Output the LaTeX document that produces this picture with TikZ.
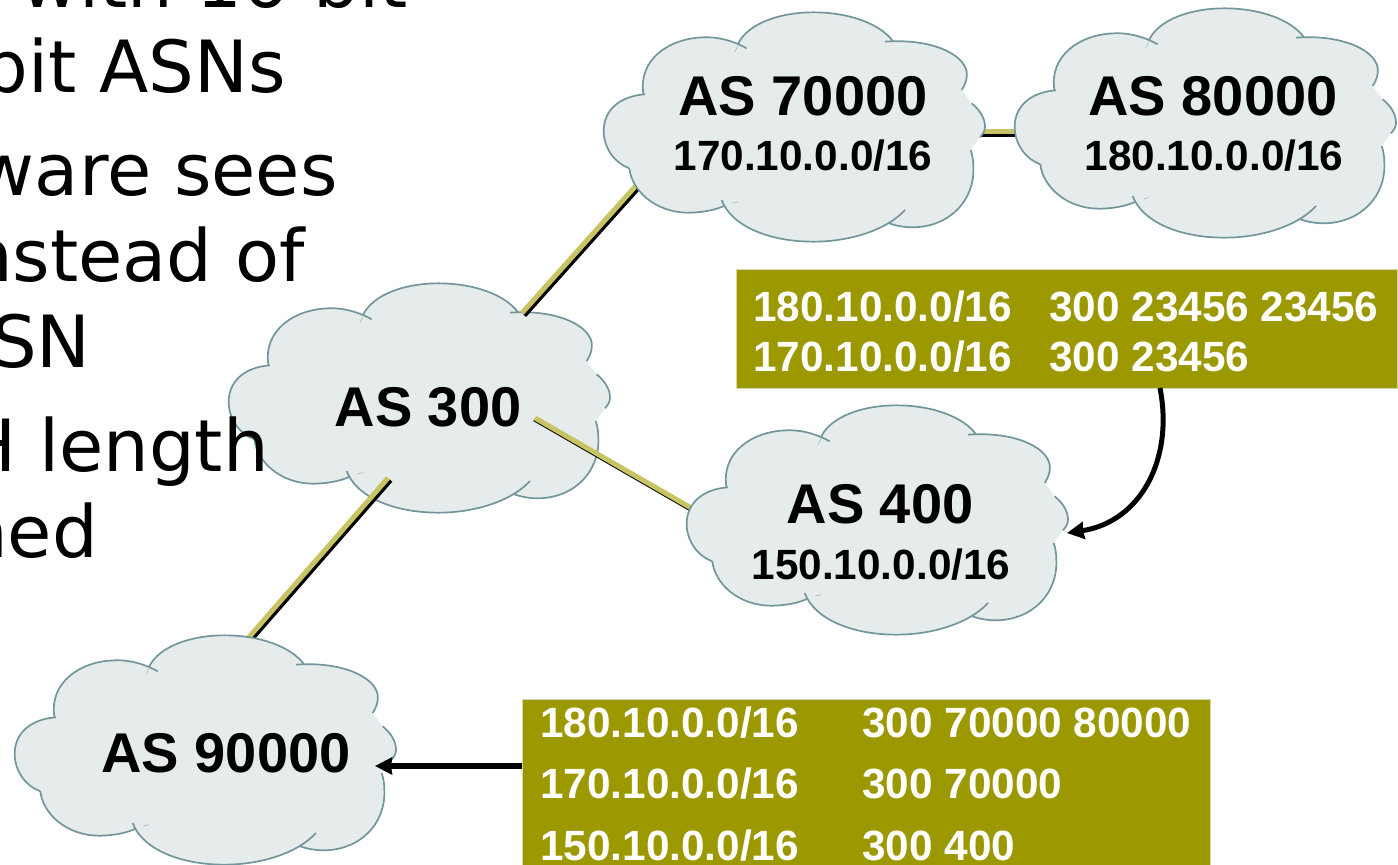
\documentclass[tikz,border=0pt]{standalone}
\usepackage{fontspec}
\setmainfont{Liberation Sans}
\newfontfamily\bodyfont{DejaVu Sans}
\usetikzlibrary{arrows.meta}
\definecolor{cloudfill}{HTML}{E6ECEC}
\definecolor{cloudline}{HTML}{72969C}
\definecolor{khaki}{HTML}{C8C464}
\definecolor{olivebox}{HTML}{9C9800}
\definecolor{boxedge}{HTML}{D8D8A8}
\tikzset{
  cloudtitle/.style={font=\fontsize{56}{60}\selectfont\bfseries,anchor=base,inner sep=0pt},
  cloudsub/.style={font=\fontsize{42.3}{46}\selectfont\bfseries,anchor=base,inner sep=0pt},
  boxtext/.style={font=\fontsize{42.3}{46}\selectfont\bfseries,text=white,anchor=base west,inner sep=0pt},
  bodytext/.style={font=\bodyfont\fontsize{72}{80}\selectfont,anchor=base east,inner sep=0pt},
  olive/.style={fill=olivebox,draw=boxedge,line width=.8pt,anchor=north west,inner sep=0pt},
  arrowline/.style={draw=black,-{Stealth[length=17pt,width=17pt,inset=1pt]}},
  linktop/.style={draw=khaki,line width=5pt},
}
% #1 is "--" for a closed filled outline, empty for separate strokes
\newcommand{\cloudoutline}[1]{
  (130,280) .. controls (115,180) and (205,115) .. (310,112) .. controls (350,110) and (395,120) .. (440,145)
  #1 (415,130) .. controls (445,70) and (540,37) .. (640,37) .. controls (745,37) and (840,70) .. (880,125)
  #1 (855,125) .. controls (990,115) and (1090,160) .. (1100,215) .. controls (1102,235) and (1098,250) .. (1085,270)
  #1 (1115,310) .. controls (1140,330) and (1155,355) .. (1155,380) .. controls (1155,392) and (1150,400) .. (1140,412)
  #1 (1112,450) .. controls (1117,465) and (1120,480) .. (1120,500) .. controls (1125,600) and (1050,680) .. (940,682) .. controls (915,682) and (890,678) .. (868,670)
  #1 (915,630) .. controls (860,690) and (750,725) .. (640,725) .. controls (510,725) and (395,680) .. (365,600)
  #1 (372,618) .. controls (345,630) and (310,637) .. (270,638) .. controls (165,640) and (95,570) .. (88,505)
  #1 (88,505) .. controls (45,490) and (12,445) .. (11,395) .. controls (10,330) and (60,288) .. (135,283)
}
\newcommand{\cloudat}[2]{
  \begin{scope}[shift={(#1,#2)},x=.33333pt,y=-.33333pt]
    \fill[cloudfill] \cloudoutline{--} -- cycle;
    \draw[cloudline,line width=1.7pt] \cloudoutline{};
    \draw[cloudline!70!cloudfill,line width=.5pt] (405,155) -- (413,138) (398,608) -- (415,605);
  \end{scope}
}
\begin{document}
\begin{tikzpicture}[x=1pt,y=-1pt]
\useasboundingbox (0,0) rectangle (1398,865);
\clip (0,0) rectangle (1398,865);
\fill[white] (0,0) rectangle (1398,865);

% end points of the links
\coordinate (t300a) at (522,313);
\coordinate (t70000) at (650,170);
\coordinate (t80000a) at (975,131);
\coordinate (t80000b) at (1025,131);
\coordinate (t300b) at (535,418);
\coordinate (t400) at (705,516);
\coordinate (t300c) at (388,478);
\coordinate (t90000) at (236,652);

\cloudat{225}{271}

% links
\draw[black,line width=4pt,transform canvas={xshift=2.6pt,yshift=-2.6pt}] (t300a) -- (t70000);
\draw[linktop] (t300a) -- (t70000);
\draw[black,line width=3.2pt,transform canvas={yshift=-4.6pt}] (t80000a) -- (t80000b);
\draw[linktop] (t80000a) -- (t80000b);
\draw[black,line width=2.4pt,transform canvas={xshift=-1.1pt,yshift=-2pt}] (t300b) -- (t400);
\draw[linktop] (t300b) -- (t400);
\draw[black,line width=4pt,transform canvas={xshift=2.8pt,yshift=-2.4pt}] (t300c) -- (t90000);
\draw[linktop] (t300c) -- (t90000);

\cloudat{600}{0}
\cloudat{1011}{-4}
\cloudat{683}{393}
\cloudat{11}{623}

% left body text, cut by the page edge
\node[bodytext] (b1) at (408,7) {with 16-bit};
\node[bodytext] (b2) at (286,92) {bit ASNs};
\node[bodytext] (b3) at (338,195) {ware sees};
\node[bodytext] (b4) at (305,281) {nstead of};
\node[bodytext] (b5) at (91,367) {SN};
\node[bodytext] (b6) at (269,471) {H length};
\node[bodytext] (b7) at (98,557) {ned};

% cloud labels
\node[cloudtitle] (as70000) at (803,115) {AS 70000};
\node[cloudsub] (p70000) at (803,170) {170.10.0.0/16};
\node[cloudtitle] (as80000) at (1213,115) {AS 80000};
\node[cloudsub] (p80000) at (1214,170) {180.10.0.0/16};
\node[cloudtitle] (as300) at (428,426) {AS 300};
\node[cloudtitle] (as400) at (880,523) {AS 400};
\node[cloudsub] (p400) at (881,579) {150.10.0.0/16};
\node[cloudtitle] (as90000) at (226,772) {AS 90000};

% tables
\node[olive,minimum width=661pt,minimum height=119pt] (box1) at (735.5,269) {};
\node[olive,minimum width=688pt,minimum height=170pt] (box2) at (521.5,699) {};

\node[boxtext] (r1a) at (753,321) {180.10.0.0/16};
\node[boxtext] (r1b) at (1049,321) {300 23456 23456};
\node[boxtext] (r2a) at (753,371) {170.10.0.0/16};
\node[boxtext] (r2b) at (1049,371) {300 23456};
\node[boxtext] (s1a) at (540,737) {180.10.0.0/16};
\node[boxtext] (s1b) at (862,737) {300 70000 80000};
\node[boxtext] (s2a) at (540,798) {170.10.0.0/16};
\node[boxtext] (s2b) at (862,798) {300 70000};
\node[boxtext] (s3a) at (540,860) {150.10.0.0/16};
\node[boxtext] (s3b) at (862,860) {300 400};

% arrows
\coordinate (a1s) at (1160,388);
\coordinate (a1e) at (1067,533);
\coordinate (a2s) at (522,766);
\coordinate (a2e) at (375,766);
\draw[arrowline,line width=5pt] (a1s) .. controls (1174,460) and (1140,522) .. (a1e);
\draw[arrowline,line width=5.5pt] (a2s) -- (a2e);
\end{tikzpicture}
\end{document}
